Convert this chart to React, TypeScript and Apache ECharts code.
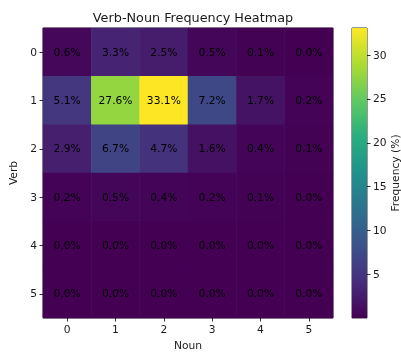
import React, { useEffect, useRef } from "react";
import * as echarts from "echarts";

const nouns = ["0", "1", "2", "3", "4", "5"];
const verbs = ["0", "1", "2", "3", "4", "5"];
const row0 = [0.6, 3.3, 2.5, 0.5, 0.1, 0.0];
const row1 = [5.1, 27.6, 33.1, 7.2, 1.7, 0.2];
const row2 = [2.9, 6.7, 4.7, 1.6, 0.4, 0.1];
const row3 = [0.2, 0.5, 0.4, 0.2, 0.1, 0.0];
const row4 = [0.0, 0.0, 0.0, 0.0, 0.0, 0.0];
const row5 = [0.0, 0.0, 0.0, 0.0, 0.0, 0.0];
const rows = [row0, row1, row2, row3, row4, row5];
const colorbarTicks = [5, 10, 15, 20, 25, 30];
const vMin = 0;
const vMax = 33.1;

const viridis = ["#440154", "#472d7b", "#3b528b", "#2c728e", "#21918c", "#28ae80", "#5ec962", "#addc30", "#fde725"];

export default function App() {
  const ref = useRef<HTMLDivElement>(null);
  useEffect(() => {
    if (!ref.current) return;
    const chart = echarts.init(ref.current, null, { renderer: "svg" });
    const data: [number, number, number][] = [];
    rows.forEach((r, yi) => r.forEach((v, xi) => data.push([xi, yi, v])));
    const font = "DejaVu Sans";
    const fs = 10.7;
    const txt = "#1a1a1a";
    chart.setOption({
      animation: false,
      textStyle: { fontFamily: font },
      title: {
        text: "Verb-Noun Frequency Heatmap",
        left: 188,
        top: 6,
        textAlign: "center",
        textStyle: { fontFamily: font, fontSize: 12.8, fontWeight: "normal", color: txt },
      },
      visualMap: {
        show: false,
        type: "continuous",
        min: vMin,
        max: vMax,
        seriesIndex: 0,
        inRange: { color: viridis },
      },
      grid: [
        { left: 43, top: 28, width: 290, height: 290, outerBoundsMode: "none", containLabel: false, show: true, borderColor: "#000", borderWidth: 0.8, backgroundColor: "transparent" },
        { left: 352, top: 28, width: 15, height: 290, outerBoundsMode: "none", containLabel: false, show: true, borderColor: "#000", borderWidth: 0.8, backgroundColor: "transparent" },
      ],
      xAxis: [
        {
          type: "category",
          data: nouns,
          gridIndex: 0,
          position: "bottom",
          name: "Noun",
          nameLocation: "middle",
          nameGap: 22,
          nameTextStyle: { fontFamily: font, fontSize: fs, color: txt, lineHeight: 11 },
          axisLine: { show: false },
          axisTick: { show: true, alignWithLabel: true, length: 3.5, lineStyle: { color: "#000", width: 0.8 } },
          axisLabel: { fontFamily: font, fontSize: fs, color: txt, margin: 6 },
          splitLine: { show: false },
        },
        {
          type: "category",
          data: ["c"],
          gridIndex: 1,
          show: false,
        },
      ],
      yAxis: [
        {
          type: "category",
          data: verbs,
          gridIndex: 0,
          inverse: true,
          name: "Verb",
          nameLocation: "middle",
          nameGap: 18,
          nameTextStyle: { fontFamily: font, fontSize: fs, color: txt },
          axisLine: { show: false },
          axisTick: { show: true, alignWithLabel: true, length: 3.5, lineStyle: { color: "#000", width: 0.8 } },
          axisLabel: { fontFamily: font, fontSize: fs, color: txt, margin: 6 },
          splitLine: { show: false },
        },
        {
          type: "value",
          gridIndex: 1,
          position: "right",
          min: vMin,
          max: vMax,
          interval: 5,
          name: "Frequency (%)",
          nameLocation: "middle",
          nameGap: 23,
          nameRotate: 90,
          nameTextStyle: { fontFamily: font, fontSize: fs, color: txt, lineHeight: 11 },
          axisLine: { show: false },
          axisTick: { show: true, length: 3.5, customValues: colorbarTicks, lineStyle: { color: "#000", width: 0.8 } },
          axisLabel: { fontFamily: font, fontSize: fs, color: txt, margin: 6, customValues: colorbarTicks },
          splitLine: { show: false },
        },
      ],
      series: [
        {
          type: "heatmap",
          xAxisIndex: 0,
          yAxisIndex: 0,
          data,
          label: {
            show: true,
            fontFamily: font,
            fontSize: fs,
            color: "#000",
            formatter: (p: any) => p.value[2].toFixed(1) + "%",
          },
          itemStyle: { borderWidth: 0 },
          emphasis: { disabled: true },
        },
        {
          type: "bar",
          xAxisIndex: 1,
          yAxisIndex: 1,
          data: [vMax],
          barWidth: "100%",
          itemStyle: {
            color: new echarts.graphic.LinearGradient(
              0, 1, 0, 0,
              viridis.map((c, i) => ({ offset: i / (viridis.length - 1), color: c }))
            ),
          },
          silent: true,
        },
      ],
    });
    return () => chart.dispose();
  }, []);
  return <div ref={ref} style={{ position: "fixed", left: 0, top: 0, width: 401, height: 352 }} />;
}
